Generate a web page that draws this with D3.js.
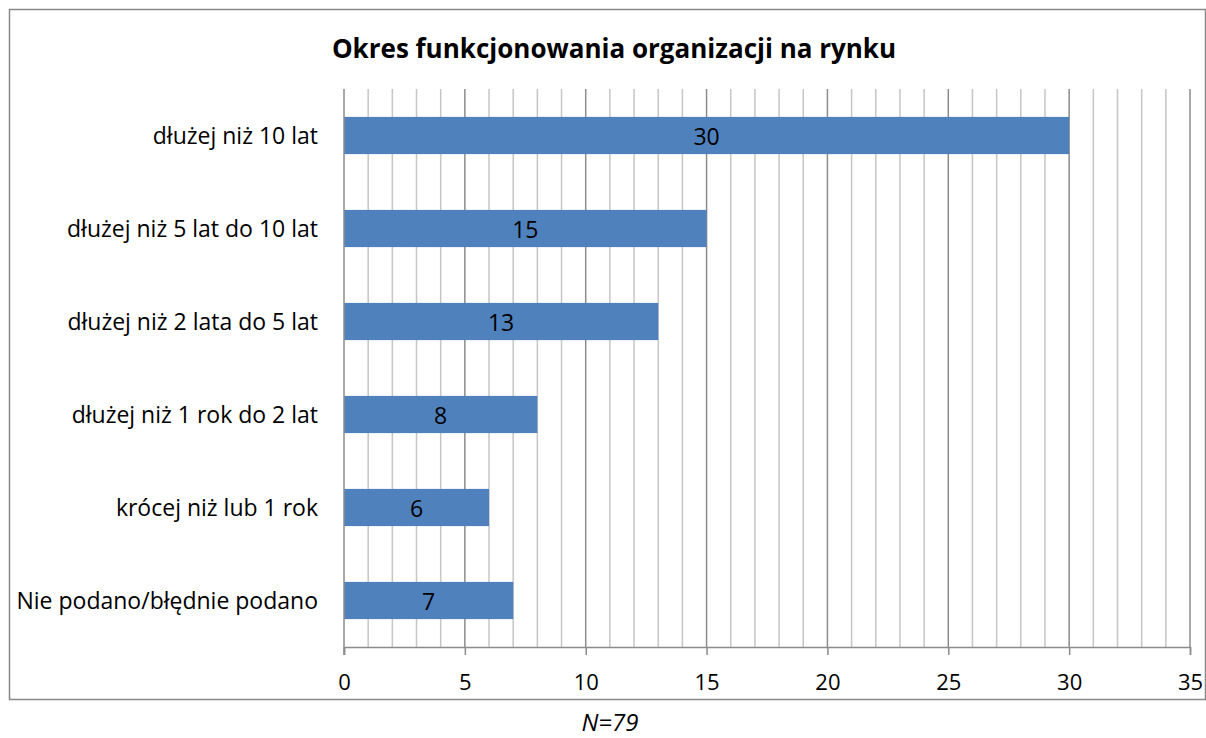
<html>
<head>
<meta charset="utf-8">
<script src="https://d3js.org/d3.v7.min.js"></script>
<style>
  body { margin: 0; background: #fff; }
  svg text { font-family: "Open Sans", "Noto Sans", sans-serif; fill: #000; }
</style>
</head>
<body>
<svg id="chart" width="1206" height="738"></svg>
<script>
// chart values
const categories = [
    "dłużej niż 10 lat",
    "dłużej niż 5 lat do 10 lat",
    "dłużej niż 2 lata do 5 lat",
    "dłużej niż 1 rok do 2 lat",
    "krócej niż lub 1 rok",
    "Nie podano/błędnie podano"
];
const values = [30, 15, 13, 8, 6, 7];
const tickValues = [0, 5, 10, 15, 20, 25, 30, 35];
const titleText = "Okres funkcjonowania organizacji na rynku";
const noteText = "N=79";

const svg = d3.select("#chart");
const plotLeft = 344, plotRight = 1190, plotTop = 89, plotBottom = 647;

// outer frame
svg.append("rect")
    .attr("x", 9.5).attr("y", 9.5)
    .attr("width", 1196).attr("height", 690)
    .attr("fill", "none").attr("stroke", "#888").attr("stroke-width", 1.5);

const x = d3.scaleLinear().domain([0, 35]).range([plotLeft, plotRight]);
const y = d3.scaleBand().domain(categories).range([plotTop, plotBottom]).paddingInner(0.6).paddingOuter(0.3);

// minor grid
svg.append("g").selectAll("line")
    .data(d3.range(1, 36).filter(v => v % 5 !== 0))
    .join("line")
    .attr("x1", d => x(d)).attr("x2", d => x(d))
    .attr("y1", plotTop).attr("y2", plotBottom)
    .attr("stroke", "#c6c6c6").attr("stroke-width", 1.5);

// major grid
svg.append("g").selectAll("line")
    .data(tickValues.slice(1))
    .join("line")
    .attr("x1", d => x(d)).attr("x2", d => x(d))
    .attr("y1", plotTop).attr("y2", plotBottom)
    .attr("stroke", "#8c8c8c").attr("stroke-width", 1.5);

// bars
svg.append("g").selectAll("rect")
    .data(values)
    .join("rect")
    .attr("x", x(0))
    .attr("y", (d, i) => y(categories[i]))
    .attr("width", d => x(d) - x(0))
    .attr("height", y.bandwidth())
    .attr("fill", "#4f81bd");

// value labels
svg.append("g").selectAll("text")
    .data(values)
    .join("text")
    .attr("x", d => (x(0) + x(d)) / 2)
    .attr("y", (d, i) => y(categories[i]) + y.bandwidth() / 2 + 9)
    .attr("text-anchor", "middle")
    .style("font-size", "23px")
    .text(d => d);

// left axis line
svg.append("line")
    .attr("x1", x(0)).attr("x2", x(0))
    .attr("y1", plotTop).attr("y2", plotBottom + 8)
    .attr("stroke", "#8c8c8c").attr("stroke-width", 1.5);

// category labels
svg.append("g").selectAll("text")
    .data(categories)
    .join("text")
    .attr("x", 318)
    .attr("y", d => y(d) + y.bandwidth() / 2 + 8)
    .attr("text-anchor", "end")
    .style("font-size", "23px")
    .text(d => d);

// bottom axis
const xAxis = d3.axisBottom(x).tickValues(tickValues).tickSize(8);
const gx = svg.append("g").attr("transform", `translate(0,${plotBottom})`).call(xAxis);
gx.select(".domain").attr("stroke", "#8c8c8c").attr("stroke-width", 1.5);
gx.selectAll(".tick line").attr("stroke", "#8c8c8c").attr("stroke-width", 1.5);
gx.selectAll(".tick text")
    .attr("y", 43).attr("dy", null)
    .style("font-size", "22px")
    .style("font-family", "\"Open Sans\", sans-serif")
    .attr("fill", "#000");

// title
svg.append("text")
    .attr("x", 614).attr("y", 58)
    .attr("text-anchor", "middle")
    .style("font-size", "26px").style("font-weight", "bold")
    .text(titleText);

// note
svg.append("text")
    .attr("x", 610).attr("y", 731)
    .attr("text-anchor", "middle")
    .style("font-size", "24px").style("font-style", "italic")
    .text(noteText);
</script>
</body>
</html>
